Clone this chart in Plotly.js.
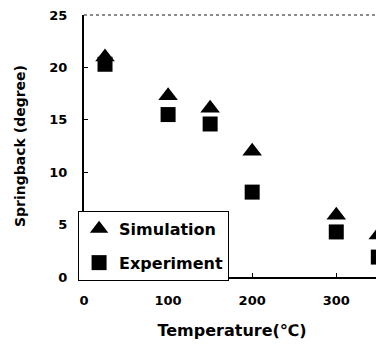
<!DOCTYPE html>
<html><head><meta charset="utf-8">
<script src="https://cdn.plot.ly/plotly-3.0.1.min.js"></script>
<style>html,body{margin:0;padding:0;overflow:hidden;background:#fff;width:376px;height:351px}</style>
</head><body><div id="c"></div>
<script>
const temps = [25, 100, 150, 200, 300, 350];
const simulation = [21.0, 17.3, 16.1, 12.0, 5.9, 4.0];
const experiment = [20.3, 15.5, 14.6, 8.1, 4.3, 1.9];
const xTicks = [0, 100, 200, 300];
const yTicks = [0, 5, 10, 15, 20, 25];

const F = '"DejaVu Sans", "Liberation Sans", Arial, sans-serif';
const traces = [
  {x: temps, y: simulation, name: 'Simulation', mode: 'markers', type: 'scatter', legendgroup: 'a',
   marker: {symbol: 'triangle-up', size: 17, color: '#000'}, cliponaxis: false},
  {x: temps, y: experiment, name: 'Experiment', mode: 'markers', type: 'scatter', legendgroup: 'b',
   marker: {symbol: 'square', size: 15, color: '#000'}, cliponaxis: false}
];
const layout = {
  width: 380, height: 351,
  margin: {l: 84, r: 0, t: 15, b: 74},
  paper_bgcolor: '#fff', plot_bgcolor: '#fff',
  font: {family: F, color: '#000', size: 13, weight: 'bold'},
  showlegend: true,
  legend: {x: -0.02, y: -0.015, xanchor: 'left', yanchor: 'bottom',
    bgcolor: '#fff', bordercolor: '#000', borderwidth: 1,
    font: {family: F, size: 16, weight: 'bold', color: '#000'},
    traceorder: 'grouped', tracegroupgap: 10},
  xaxis: {range: [0, 352], tickvals: xTicks, ticks: 'inside', ticklen: 4, tickcolor: '#000',
    showgrid: false, zeroline: false, showline: true, linecolor: '#000', linewidth: 2,
    ticklabelstandoff: 10,
    tickfont: {family: F, size: 13, weight: 'bold'},
    title: {text: 'Temperature(℃)', font: {family: F, size: 16, weight: 'bold'}, standoff: 18}},
  yaxis: {range: [0, 25], tickvals: yTicks, ticks: 'inside', ticklen: 4, tickcolor: '#000',
    showgrid: false, zeroline: false, showline: true, linecolor: '#000', linewidth: 2,
    ticklabelstandoff: 12,
    tickfont: {family: F, size: 13, weight: 'bold'},
    title: {text: 'Springback (degree)', font: {family: F, size: 14, weight: 'bold'}, standoff: 20}},
  shapes: [{type: 'line', xref: 'paper', yref: 'paper', x0: 0, x1: 1, y0: 1, y1: 1,
    line: {color: '#666', width: 1.5, dash: 'dot'}}]
};
Plotly.newPlot('c', traces, layout, {displayModeBar: false, staticPlot: true});
</script></body></html>
